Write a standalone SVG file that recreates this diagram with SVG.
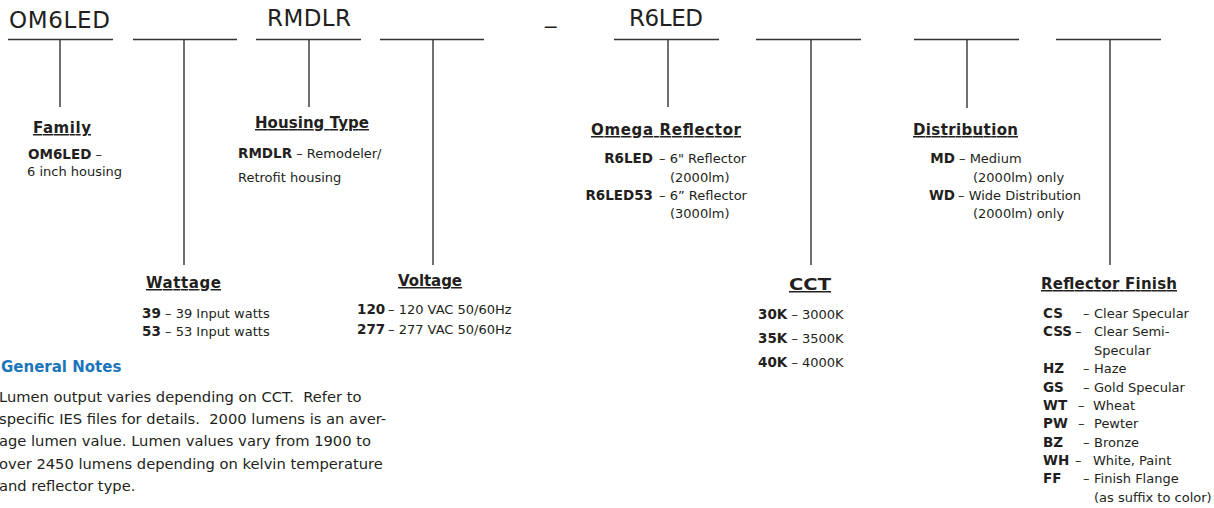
<svg xmlns="http://www.w3.org/2000/svg" width="1214" height="508" viewBox="0 0 1214 508">
<style>
text{font-family:"DejaVu Sans","Liberation Sans",sans-serif;fill:#231f20;font-size:13px;white-space:pre}
.code{font-size:23px}
.h{font-size:15px;font-weight:bold;text-decoration:underline}
.b{font-weight:bold;font-size:13.5px}
.blue{fill:#1b75bb;font-weight:bold;font-size:15px}
.note{font-size:14.7px}
.ln{stroke:#333;stroke-width:1.4;fill:none}
</style>
<rect width="1214" height="508" fill="#fff"/>
<g id="connectors" class="ln">
<line x1="8" y1="39.5" x2="113" y2="39.5"/>
<line x1="133" y1="39.5" x2="237" y2="39.5"/>
<line x1="256" y1="39.5" x2="361" y2="39.5"/>
<line x1="380" y1="39.5" x2="484" y2="39.5"/>
<line x1="614" y1="39.5" x2="719" y2="39.5"/>
<line x1="756" y1="39.5" x2="861" y2="39.5"/>
<line x1="914" y1="39.5" x2="1019" y2="39.5"/>
<line x1="1056" y1="39.5" x2="1161" y2="39.5"/>
<line x1="60" y1="39.5" x2="60" y2="107"/>
<line x1="184" y1="39.5" x2="184" y2="265"/>
<line x1="309" y1="39.5" x2="309" y2="107"/>
<line x1="433" y1="39.5" x2="433" y2="265"/>
<line x1="668" y1="39.5" x2="668" y2="107"/>
<line x1="811" y1="39.5" x2="811" y2="265"/>
<line x1="967" y1="39.5" x2="967" y2="108"/>
<line x1="1110" y1="39.5" x2="1110" y2="265"/>
</g>
<g id="codes">
<text class="code" x="9" y="28" textLength="101">OM6LED</text>
<text class="code" x="267" y="26" textLength="84">RMDLR</text>
<text class="code" x="545" y="23">_</text>
<text class="code" x="629" y="26" textLength="74">R6LED</text>
</g>
<g id="family">
<text class="h" x="33" y="133" textLength="58">Family</text>
<text x="28" y="159"><tspan class="b">OM6LED</tspan> –</text>
<text x="27" y="176">6 inch housing</text>
</g>
<g id="housing-type">
<text class="h" x="255" y="128" textLength="114">Housing Type</text>
<text x="238" y="158"><tspan class="b">RMDLR</tspan> – Remodeler/</text>
<text x="238" y="182">Retrofit housing</text>
</g>
<g id="wattage">
<text class="h" x="146" y="288" textLength="75">Wattage</text>
<text class="b" x="142" y="318">39</text><text x="165" y="318">– 39 Input watts</text>
<text class="b" x="142" y="336">53</text><text x="165" y="336">– 53 Input watts</text>
</g>
<g id="voltage">
<text class="h" x="398" y="286" textLength="64">Voltage</text>
<text class="b" x="357" y="314">120</text><text x="388" y="314">– 120 VAC 50/60Hz</text>
<text class="b" x="357" y="334">277</text><text x="388" y="334">– 277 VAC 50/60Hz</text>
</g>
<g id="omega-reflector">
<text class="h" x="591" y="135" textLength="150">Omega Reflector</text>
<text class="b" x="653" y="163" text-anchor="end">R6LED</text><text x="659" y="163">– 6" Reflector</text>
<text x="670" y="182">(2000lm)</text>
<text class="b" x="653" y="200" text-anchor="end">R6LED53</text><text x="659" y="200">– 6” Reflector</text>
<text x="670" y="218">(3000lm)</text>
</g>
<g id="cct">
<text class="h" x="789" y="290" textLength="42" lengthAdjust="spacingAndGlyphs">CCT</text>
<text x="758" y="319"><tspan class="b">30K</tspan> – 3000K</text>
<text x="758" y="343"><tspan class="b">35K</tspan> – 3500K</text>
<text x="758" y="367"><tspan class="b">40K</tspan> – 4000K</text>
</g>
<g id="distribution">
<text class="h" x="913" y="135" textLength="105">Distribution</text>
<text class="b" x="955" y="163" text-anchor="end">MD</text><text x="959" y="163">– Medium</text>
<text x="973" y="182">(2000lm) only</text>
<text class="b" x="955" y="200" text-anchor="end">WD</text><text x="958" y="200">– Wide Distribution</text>
<text x="973" y="218">(2000lm) only</text>
</g>
<g id="reflector-finish">
<text class="h" x="1041" y="289" textLength="136">Reflector Finish</text>
<text class="b" x="1043" y="318">CS</text><text x="1083" y="318">–</text><text x="1094" y="318">Clear Specular</text>
<text class="b" x="1043" y="336">CSS</text><text x="1075" y="336">–</text><text x="1094" y="336">Clear Semi-</text>
<text x="1094" y="355">Specular</text>
<text class="b" x="1043" y="373">HZ</text><text x="1083" y="373">–</text><text x="1094" y="373">Haze</text>
<text class="b" x="1043" y="392">GS</text><text x="1083" y="392">–</text><text x="1094" y="392">Gold Specular</text>
<text class="b" x="1043" y="410">WT</text><text x="1078" y="410">–</text><text x="1093" y="410">Wheat</text>
<text class="b" x="1043" y="428">PW</text><text x="1078" y="428">–</text><text x="1094" y="428">Pewter</text>
<text class="b" x="1043" y="447">BZ</text><text x="1083" y="447">–</text><text x="1094" y="447">Bronze</text>
<text class="b" x="1043" y="465">WH</text><text x="1075" y="465">–</text><text x="1093" y="465">White, Paint</text>
<text class="b" x="1043" y="483">FF</text><text x="1083" y="483">–</text><text x="1094" y="483">Finish Flange</text>
<text x="1094" y="502">(as suffix to color)</text>
</g>
<g id="general-notes">
<text class="blue" x="1" y="372">General Notes</text>
<text class="note" x="-1" y="402">Lumen output varies depending on CCT.  Refer to</text>
<text class="note" x="-1" y="424">specific IES files for details.  2000 lumens is an aver-</text>
<text class="note" x="-1" y="446">age lumen value. Lumen values vary from 1900 to</text>
<text class="note" x="-1" y="469">over 2450 lumens depending on kelvin temperature</text>
<text class="note" x="-1" y="491">and reflector type.</text>
</g>
</svg>
